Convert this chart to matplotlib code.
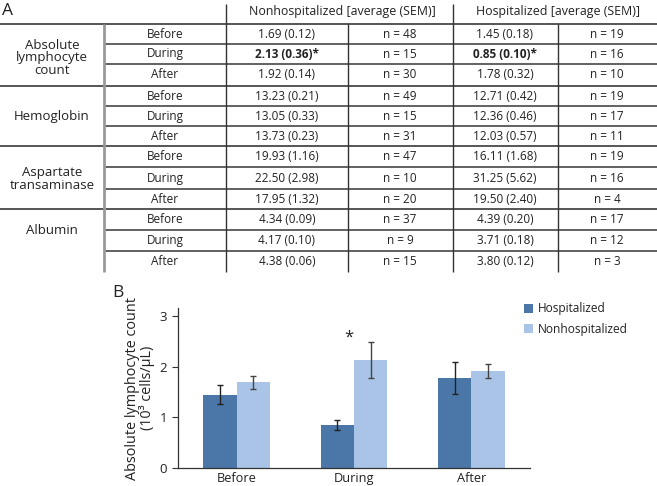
import matplotlib
matplotlib.use("Agg")
import matplotlib.pyplot as plt
from matplotlib.patches import Patch
import numpy as np

plt.rcParams['font.family'] = ['Open Sans', 'DejaVu Sans']

# ---------------- data ----------------
parameters = ["Absolute\nlymphocyte\ncount", "Hemoglobin", "Aspartate\ntransaminase", "Albumin"]
phases = ["Before", "During", "After"]
nonhosp_vals = ["1.69 (0.12)", "2.13 (0.36)*", "1.92 (0.14)",
                "13.23 (0.21)", "13.05 (0.33)", "13.73 (0.23)",
                "19.93 (1.16)", "22.50 (2.98)", "17.95 (1.32)",
                "4.34 (0.09)", "4.17 (0.10)", "4.38 (0.06)"]
nonhosp_n = [48, 15, 30, 49, 15, 31, 47, 10, 20, 37, 9, 15]
hosp_vals = ["1.45 (0.18)", "0.85 (0.10)*", "1.78 (0.32)",
             "12.71 (0.42)", "12.36 (0.46)", "12.03 (0.57)",
             "16.11 (1.68)", "31.25 (5.62)", "19.50 (2.40)",
             "4.39 (0.20)", "3.71 (0.18)", "3.80 (0.12)"]
hosp_n = [19, 16, 10, 19, 17, 11, 19, 16, 4, 17, 12, 3]
bold_rows = [1]
headers = ["Nonhospitalized [average (SEM)]", "Hospitalized [average (SEM)]"]

bar_groups = ["Before", "During", "After"]
hosp_mean = [1.45, 0.85, 1.78]
hosp_sem = [0.18, 0.10, 0.32]
nonhosp_mean = [1.69, 2.13, 1.92]
nonhosp_sem = [0.12, 0.36, 0.14]
series_names = ["Hospitalized", "Nonhospitalized"]
yticks = [0, 1, 2, 3]

# ---------------- figure ----------------
W, H = 657, 486
fig = plt.figure(figsize=(W / 100, H / 100), dpi=100)

# overlay axes in pixel coordinates for the table
tab = fig.add_axes([0, 0, 1, 1])
tab.set_xlim(0, W)
tab.set_ylim(H, 0)
tab.axis('off')

txt_col = '#222222'
row_edges = [24, 44, 64, 86, 106, 126, 146, 167, 189, 209, 230, 251, 272]
group_edges = [24, 86, 146, 209]

# horizontal lines
for y in row_edges[:-1]:
    if y in group_edges:
        tab.plot([0, W], [y, y], color='#555555', lw=1.4, solid_capstyle='butt')
    else:
        tab.plot([104, W], [y, y], color='#555555', lw=1.3, solid_capstyle='butt')

# vertical lines
tab.plot([104, 104], [24, 272], color='#9a9a9a', lw=2.0, solid_capstyle='butt')
tab.plot([226, 226], [4, 272], color='#333333', lw=1.0, solid_capstyle='butt')
tab.plot([453, 453], [4, 272], color='#333333', lw=1.0, solid_capstyle='butt')
tab.plot([348, 348], [24, 272], color='#333333', lw=1.0, solid_capstyle='butt')
tab.plot([558, 558], [24, 272], color='#333333', lw=1.0, solid_capstyle='butt')

# panel letters
tab.text(2, 11, "A", fontsize=12.5, color=txt_col, ha='left', va='center')
tab.text(112, 293, "B", fontsize=12.5, color=txt_col, ha='left', va='center')

# headers
tab.text(342, 12, headers[0], fontsize=8.9, color=txt_col, ha='center', va='center')
tab.text(558, 12, headers[1], fontsize=8.9, color=txt_col, ha='center', va='center')

# parameter labels
group_centers = [58, 116, 179, 230]
for p, yc in zip(parameters, group_centers):
    tab.text(52, yc, p, fontsize=9.5, color=txt_col, ha='center', va='center',
             linespacing=0.92)

fs = 8.5
for r in range(12):
    yc = (row_edges[r] + row_edges[r + 1]) / 2
    tab.text(165, yc, phases[r % 3], fontsize=fs, color=txt_col, ha='center', va='center')
    w = 'bold' if r in bold_rows else 'normal'
    tab.text(287, yc, nonhosp_vals[r], fontsize=fs, color=txt_col, ha='center', va='center', weight=w)
    tab.text(400, yc, f"n = {nonhosp_n[r]}", fontsize=fs, color=txt_col, ha='center', va='center')
    tab.text(505, yc, hosp_vals[r], fontsize=fs, color=txt_col, ha='center', va='center', weight=w)
    tab.text(607, yc, f"n = {hosp_n[r]}", fontsize=fs, color=txt_col, ha='center', va='center')

# ---------------- bar chart ----------------
ax_l, ax_r, ax_b, ax_t = 178, 530, 468, 308
ax = fig.add_axes([ax_l / W, (H - ax_b) / H, (ax_r - ax_l) / W, (ax_b - ax_t) / H])
x = np.arange(len(bar_groups))
bw = 0.285
c_h = '#4a76a8'
c_n = '#a9c4e7'
ax.bar(x - bw / 2, hosp_mean, bw, color=c_h, yerr=hosp_sem,
       error_kw=dict(ecolor='#222222', elinewidth=1.0, capsize=2.5, capthick=1.0))
ax.bar(x + bw / 2, nonhosp_mean, bw, color=c_n, yerr=nonhosp_sem,
       error_kw=dict(ecolor='#444444', elinewidth=1.0, capsize=2.5, capthick=1.0))
ax.set_xlim(-0.5, 2.5)
ax.set_ylim(0, 3.16)
ax.set_yticks(yticks)
ax.set_xticks(x)
ax.set_xticklabels(bar_groups, fontsize=9.2, color=txt_col)
ax.tick_params(axis='x', length=0, pad=3)
ax.tick_params(axis='y', length=4, width=0.8, colors='#333333', labelsize=9.5, pad=4)
for lab in ax.get_yticklabels():
    lab.set_color(txt_col)
ax.spines['top'].set_visible(False)
ax.spines['right'].set_visible(False)
ax.spines['left'].set_color('#333333')
ax.spines['bottom'].set_color('#333333')
ax.spines['left'].set_linewidth(0.9)
ax.spines['bottom'].set_linewidth(0.9)
ax.set_ylabel("Absolute lymphocyte count\n(10³ cells/µL)", fontsize=10.4, color=txt_col,
              linespacing=0.95, labelpad=3)
ax.text(0.96, 2.58, "*", fontsize=12, color=txt_col, ha='center', va='center')
ax.set_facecolor('none')

handles = [Patch(facecolor=c_h, edgecolor='none'), Patch(facecolor=c_n, edgecolor='none')]
fig.legend(handles, series_names, loc='upper left',
           bbox_to_anchor=(516 / W, 1 - 294 / H), frameon=False, fontsize=8.6,
           handlelength=0.75, handleheight=0.75, handletextpad=0.4, labelspacing=0.6,
           borderpad=0.2, labelcolor=txt_col)

fig.savefig("out.png", dpi=100)
